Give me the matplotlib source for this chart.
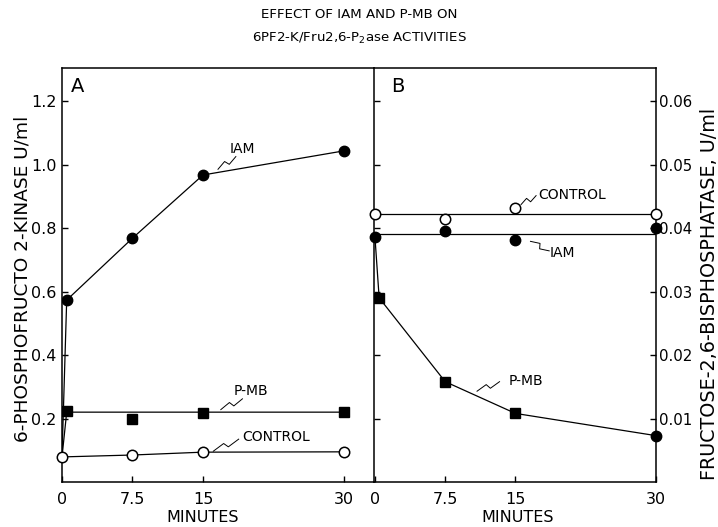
import matplotlib.pyplot as plt
import numpy as np

plt.rcParams['font.family'] = ['DejaVu Sans']

minute_ticks = [0, 7.5, 15, 30]
minute_labels = ['0', '7.5', '15', '30']

# Panel A: 6-phosphofructo 2-kinase, U/ml
a_control_x = [0, 7.5, 15, 30]
a_control_y = [0.079, 0.085, 0.094, 0.095]
a_iam_x = [0, 0.5, 7.5, 15, 30]
a_iam_y = [0.079, 0.573, 0.768, 0.967, 1.043]
a_pmb_x = [0.5, 7.5, 15, 30]
a_pmb_y = [0.224, 0.200, 0.218, 0.221]
a_pmb_line_x = [0, 0.5, 30]
a_pmb_line_y = [0.079, 0.22, 0.22]

# Panel B: fructose-2,6-bisphosphatase, U/ml
b_control_x = [0, 7.5, 15, 30]
b_control_y = [0.0422, 0.0414, 0.0431, 0.0422]
b_control_line = [0.0422, 0.0422]
b_iam_x = [0, 7.5, 15, 30]
b_iam_y = [0.0386, 0.0395, 0.0381, 0.0400]
b_iam_line = [0.0391, 0.0391]
b_pmb_x = [0, 0.45, 7.5, 15, 30]
b_pmb_y = [0.0386, 0.029, 0.0158, 0.0108, 0.0073]
b_line_x = [0, 30]

LW = 0.9
MS = 7.5


def squiggle(ax, p0, p1, amp=2.5):
    # little lightning-bolt leader from a curve to its label
    t = ax.transData
    a = t.transform(p0)
    b = t.transform(p1)
    d = b - a
    u = d / np.hypot(*d)
    n = np.array([-u[1], u[0]])
    pts = np.array([a, a + d * 0.45 + n * amp, a + d * 0.55 - n * amp, b])
    pts = t.inverted().transform(pts)
    ax.plot(pts[:, 0], pts[:, 1], color='black', lw=0.7, clip_on=False)


fig = plt.figure(figsize=(7.18, 5.27), dpi=100)
axA = fig.add_axes([62 / 718, 45 / 527, 312 / 718, 414 / 527])
axB = fig.add_axes([374 / 718, 45 / 527, 282 / 718, 414 / 527])

fig.text(0.5, 1 - 15 / 527, 'EFFECT OF IAM AND P-MB ON', ha='center', va='center', fontsize=9.6)
fig.text(0.5, 1 - 38 / 527, r'6PF2-K/Fru2,6-P$_2$ase ACTIVITIES', ha='center', va='center', fontsize=9.6)

# ---- panel A
axA.set_xlim(0, 33.2)
axA.set_ylim(0, 1.304)
axA.plot(a_iam_x, a_iam_y, color='black', lw=LW, zorder=2)
axA.plot(a_iam_x[1:], a_iam_y[1:], 'o', color='black', ms=MS, zorder=3)
axA.plot(a_pmb_line_x, a_pmb_line_y, color='black', lw=LW, zorder=2)
axA.plot(a_pmb_x, a_pmb_y, 's', color='black', ms=7, zorder=3)
axA.plot(a_control_x, a_control_y, '-o', color='black', lw=LW, ms=MS,
         mfc='white', mec='black', mew=1.1, zorder=4, clip_on=False)

axA.set_xticks(minute_ticks)
axA.set_xticklabels(minute_labels)
axA.set_yticks([0.2, 0.4, 0.6, 0.8, 1.0, 1.2])
axA.set_yticklabels(['0.2', '0.4', '0.6', '0.8', '1.0', '1.2'])
axA.tick_params(direction='in', length=4, width=1, labelsize=11.5)
axA.tick_params(axis='y', pad=4)
axA.tick_params(axis='x', pad=7)
axA.spines['right'].set_visible(False)
axA.set_ylabel('6-PHOSPHOFRUCTO 2-KINASE U/ml', fontsize=13.3)
axA.yaxis.label.set_va('center')
axA.yaxis.set_label_coords(-0.128, 0.49)
axA.set_xlabel('MINUTES', fontsize=11.5)
axA.xaxis.label.set_va('center')
axA.xaxis.set_label_coords(0.452, -0.085)
axA.text(0.05, 0.955, 'A', transform=axA.transAxes, ha='center', va='center', fontsize=14)

axA.text(19.2, 1.048, 'IAM', ha='center', va='center', fontsize=10)
squiggle(axA, (16.6, 0.985), (18.5, 1.025))
axA.text(20.1, 0.287, 'P-MB', ha='center', va='center', fontsize=10)
squiggle(axA, (16.9, 0.228), (19.2, 0.262))
axA.text(22.8, 0.143, 'CONTROL', ha='center', va='center', fontsize=10)
squiggle(axA, (16.1, 0.097), (18.8, 0.135))

# ---- panel B
axB.set_xlim(-0.1, 30)
axB.set_ylim(0, 0.0652)
axB.plot(b_line_x, b_control_line, color='black', lw=LW, zorder=2)
axB.plot(b_line_x, b_iam_line, color='black', lw=LW, zorder=2)
axB.plot(b_pmb_x, b_pmb_y, color='black', lw=LW, zorder=2)
axB.plot(b_pmb_x[1:4], b_pmb_y[1:4], 's', color='black', ms=7, zorder=3)
axB.plot(b_pmb_x[4:], b_pmb_y[4:], 'o', color='black', ms=MS, zorder=3, clip_on=False)
axB.plot(b_iam_x, b_iam_y, 'o', color='black', ms=MS, zorder=3, clip_on=False)
axB.plot(b_control_x, b_control_y, 'o', ms=MS, mfc='white', mec='black',
         mew=1.1, zorder=4, clip_on=False)

axB.set_xticks(minute_ticks)
axB.set_xticklabels(minute_labels)
axB.set_yticks([0.01, 0.02, 0.03, 0.04, 0.05, 0.06])
axB.set_yticklabels(['0.01', '0.02', '0.03', '0.04', '0.05', '0.06'])
axB.tick_params(direction='in', length=4, width=1, labelsize=11.5)
axB.tick_params(axis='y', left=True, right=True, labelleft=False, labelright=True,
                pad=2, labelsize=10.8)
axB.tick_params(axis='x', pad=7)
axB.yaxis.set_label_position('right')
axB.set_ylabel('FRUCTOSE-2,6-BISPHOSPHATASE, U/ml', fontsize=13.8)
axB.yaxis.label.set_va('center')
axB.yaxis.set_label_coords(1.19, 0.455)
axB.set_xlabel('MINUTES', fontsize=11.5)
axB.xaxis.label.set_va('center')
axB.xaxis.set_label_coords(0.51, -0.085)
axB.text(0.085, 0.955, 'B', transform=axB.transAxes, ha='center', va='center', fontsize=14)

axB.text(21.0, 0.0452, 'CONTROL', ha='center', va='center', fontsize=10)
squiggle(axB, (15.6, 0.0437), (17.2, 0.0451))
axB.text(20.0, 0.0361, 'IAM', ha='center', va='center', fontsize=10)
squiggle(axB, (16.6, 0.0379), (18.6, 0.0364))
axB.text(16.1, 0.0159, 'P-MB', ha='center', va='center', fontsize=10)
squiggle(axB, (10.9, 0.0143), (13.3, 0.0158))

for ax in (axA, axB):
    for s in ax.spines.values():
        s.set_linewidth(1.1)

fig.savefig('out.png', dpi=100)
